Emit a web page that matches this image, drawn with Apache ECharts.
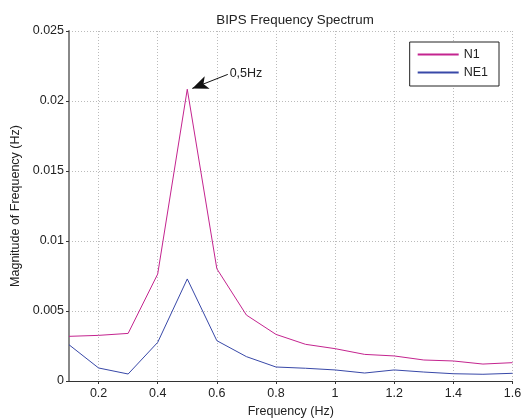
<!DOCTYPE html>
<html>
<head>
<meta charset="utf-8">
<script src="https://cdn.jsdelivr.net/npm/echarts@6/dist/echarts.min.js"></script>
<style>html,body{margin:0;padding:0;background:#fff}#c{width:521px;height:419px}</style>
</head>
<body>
<div id="c"></div>
<script>
const freq = [0.1,0.2,0.3,0.4,0.5,0.6,0.7,0.8,0.9,1.0,1.1,1.2,1.3,1.4,1.5,1.6];
const n1 = [0.00319,0.00326,0.0034,0.00764,0.02084,0.00802,0.00471,0.00333,0.00262,0.00231,0.0019,0.00179,0.0015,0.00143,0.00121,0.00131];
const ne1 = [0.00259,0.00093,0.0005,0.00276,0.00729,0.00288,0.00174,0.001,0.00091,0.00079,0.00057,0.00079,0.00064,0.00052,0.00048,0.00055];
const xTicks = [0.2,0.4,0.6,0.8,1.0,1.2,1.4,1.6];
const annotation = {text:'0,5Hz', from:[0.637,0.0219], to:[0.517,0.0209]};

const font = 'Liberation Sans, Arial, sans-serif';
const chart = echarts.init(document.getElementById('c'), null, {renderer:'canvas'});
chart.setOption({
  animation:false,
  backgroundColor:'#fff',
  title:{text:'BIPS Frequency Spectrum', left:290, textAlign:'center', top:9,
    textStyle:{fontFamily:font, fontSize:13.3, fontWeight:'normal', color:'#222'}},
  grid:{left:69, right:8.5, top:31, bottom:38, containLabel:false, outerBoundsMode:'none'},
  legend:{data:['N1','NE1'], orient:'vertical', right:22, top:42,
    backgroundColor:'#fff', borderColor:'#222', borderWidth:1, borderRadius:0,
    padding:[6,11,7,8], itemGap:5, itemWidth:41, itemHeight:2,
    icon:'rect',
    textStyle:{fontFamily:font, fontSize:12.5, color:'#222', padding:[0,0,0,0]}},
  xAxis:{type:'value', min:0.1, max:1.6,
    name:'Frequency (Hz)', nameLocation:'middle', nameGap:21,
    nameTextStyle:{fontFamily:font, fontSize:12.5, color:'#222'},
    axisLine:{show:true, onZero:false, lineStyle:{color:'#333', width:1}},
    axisTick:{show:true, inside:false, length:3, customValues:xTicks, lineStyle:{color:'#333'}},
    axisLabel:{customValues:xTicks, fontFamily:font, fontSize:12.5, color:'#222', margin:6,
      formatter:v=>String(Math.round(v*10)/10)},
    splitLine:{show:true, lineStyle:{color:'#bbb', type:[1,2], width:1}}},
  yAxis:{type:'value', min:0, max:0.025, interval:0.005,
    name:'Magnitude of Frequency (Hz)', nameLocation:'middle', nameGap:44,
    nameTextStyle:{fontFamily:font, fontSize:12.5, color:'#222'},
    axisLine:{show:true, lineStyle:{color:'#888', width:2}},
    axisTick:{show:true, inside:false, length:3, lineStyle:{color:'#333'}},
    axisLabel:{fontFamily:font, fontSize:12.5, color:'#222', margin:5,
      formatter:v=>String(parseFloat(v.toFixed(4)))},
    splitLine:{show:true, lineStyle:{color:'#bbb', type:[1,2], width:1}}},
  series:[
    {name:'N1', type:'line', data:freq.map((f,i)=>[f,n1[i]]), symbol:'none',
      lineStyle:{color:'#c4248f', width:1}, itemStyle:{color:'#c4248f'},
      markLine:{silent:true, symbol:['none','arrow'], symbolSize:[10,16],
        lineStyle:{color:'#111', width:1, type:'solid'}, itemStyle:{color:'#111'},
        label:{show:true, position:'start', formatter:annotation.text, fontFamily:font, fontSize:12.5, color:'#222', distance:2},
        data:[[{coord:annotation.from},{coord:annotation.to}]]}},
    {name:'NE1', type:'line', data:freq.map((f,i)=>[f,ne1[i]]), symbol:'none',
      lineStyle:{color:'#3848a8', width:1}, itemStyle:{color:'#3848a8'}}
  ]
});
</script>
</body>
</html>
